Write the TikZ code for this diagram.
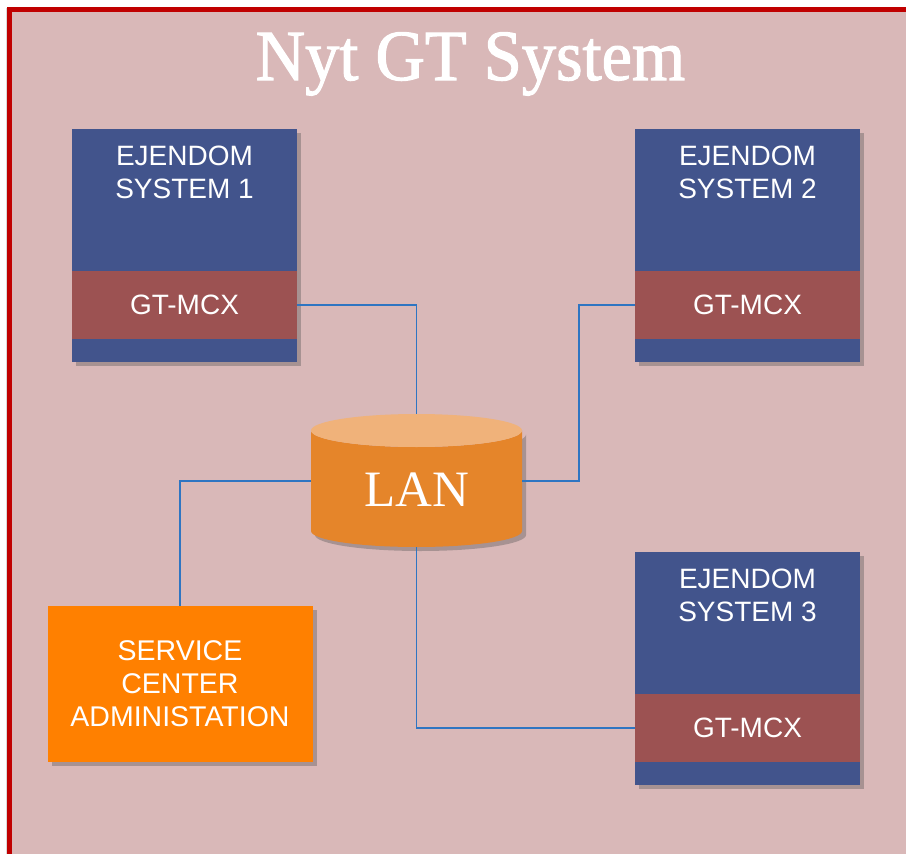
\documentclass[tikz,border=0pt]{standalone}
\usepackage{fontspec}
\setmainfont{Liberation Serif}
\setsansfont{Liberation Sans}
\newfontfamily\titlefont[FakeBold=1.6]{Liberation Serif}
\usetikzlibrary{shadows}
\definecolor{bg}{HTML}{D9B8B8}
\definecolor{framered}{HTML}{C00000}
\definecolor{sysblue}{HTML}{42548C}
\definecolor{bandred}{HTML}{9C5252}
\definecolor{svc}{HTML}{FF8000}
\definecolor{lanbody}{HTML}{E5852A}
\definecolor{lantopc}{HTML}{F0B27A}
\definecolor{wire}{HTML}{2E75C2}
\begin{document}
\begin{tikzpicture}[x=1pt,y=-1pt,
  shad/.style={drop shadow={shadow xshift=4pt,shadow yshift=-4pt,fill=black!70,opacity=0.35}},
  sysbox/.style={fill=sysblue,minimum width=225pt,minimum height=233pt,inner sep=0pt,anchor=north west,shad},
  bandbox/.style={fill=bandred,minimum width=225pt,minimum height=68pt,inner sep=0pt,text=white,
    font=\sffamily\fontsize{28}{33}\selectfont},
  systext/.style={text=white,align=center,inner sep=0pt,font=\sffamily\fontsize{28}{33}\selectfont},
  wireline/.style={draw=wire,line width=1.5pt},
]
\useasboundingbox (0,0) rectangle (906,854);
% frame
\fill[white] (0,0) rectangle (906,854);
\fill[black!15] (6,8) rectangle (9,854);
\fill[bg] (12,12) rectangle (912,860);
\draw[framered,line width=5pt] (9.5,9.5) rectangle (915,865);

% title
\node[anchor=base,text=white,font=\titlefont\fontsize{72}{72}\selectfont,inner sep=0pt] (title) at (470.5,80)
  {\scalebox{0.95}[1]{Nyt GT System}};

% system 1
\node[sysbox] (s1) at (72,129) {};
\node[bandbox] (g1) at (184.5,305) {GT-MCX};
\node[systext] (t1) at (184.5,172) {EJENDOM\\SYSTEM 1};
% system 2
\node[sysbox] (s2) at (635,129) {};
\node[bandbox] (g2) at (747.5,305) {GT-MCX};
\node[systext] (t2) at (747.5,172) {EJENDOM\\SYSTEM 2};
% system 3
\node[sysbox] (s3) at (635,552) {};
\node[bandbox] (g3) at (747.5,728) {GT-MCX};
\node[systext] (t3) at (747.5,595) {EJENDOM\\SYSTEM 3};

% service center
\node[fill=svc,minimum width=265pt,minimum height=156pt,inner sep=0pt,shad,
  text=white,align=center,font=\sffamily\fontsize{28.5}{33}\selectfont] (svc) at (180,684)
  {SERVICE\\CENTER\\ADMINISTATION};

% LAN cylinder
\path[fill=lanbody,shad] (311,430.5) -- (311,531)
  arc[start angle=180,end angle=0,x radius=105.5,y radius=16] -- (522,430.5)
  arc[start angle=0,end angle=180,x radius=105.5,y radius=16.5] -- cycle;
\fill[lantopc] (416.5,430.5) ellipse[x radius=105.5,y radius=16.5];
\node[text=white,font=\fontsize{51}{51}\selectfont,anchor=base] (lan) at (416.5,506) {LAN};
\coordinate (lanN) at (416.5,414);
\coordinate (lanS) at (416.5,547);
\coordinate (lanW) at (311,481);
\coordinate (lanE) at (522,481);

% connectors
\draw[wireline] (g1.east) -| (lanN);
\draw[wireline] (g2.west) -- ++(-56,0) |- (lanE);
\draw[wireline] (lanW) -| (svc.north);
\draw[wireline] (lanS) |- (g3.west);
\end{tikzpicture}
\end{document}
